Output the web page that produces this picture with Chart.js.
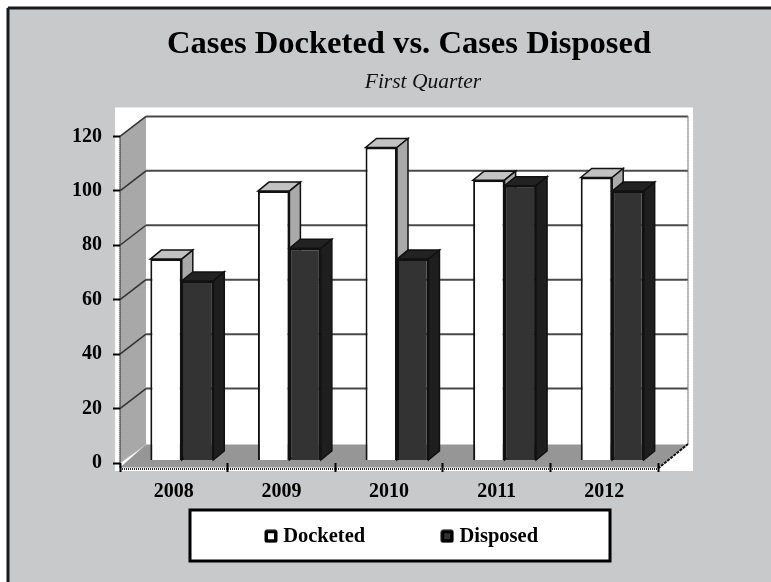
<!DOCTYPE html>
<html>
<head>
<meta charset="utf-8">
<title>Cases Docketed vs. Cases Disposed</title>
<script src="https://cdn.jsdelivr.net/npm/chart.js@4"></script>
<style>
  html, body { margin: 0; padding: 0; background: #fff; }
  #wrap { width: 771px; height: 582px; }
</style>
</head>
<body>
<div id="wrap"><canvas id="grafico"></canvas></div>
<script>
const years = ["2008", "2009", "2010", "2011", "2012"];
const docketed = [74, 99, 115, 103, 104];
const disposed = [66, 78, 74, 101, 99];

const FONT = '"Liberation Serif", serif';
const wall = { dx: 26, dy: -20 };   // depth of the back wall
const barDepth = { dx: 11, dy: -9 };
const barShift = { x: 8, y: -2.5 };
const barFaces = [
  { top: "#c2c2c2", side: "#a9a9a9" },
  { top: "#222222", side: "#1e1e1e" }
];

function poly(ctx, pts, fill, stroke, lw) {
  ctx.beginPath();
  pts.forEach((p, i) => i ? ctx.lineTo(p[0], p[1]) : ctx.moveTo(p[0], p[1]));
  ctx.closePath();
  if (fill) { ctx.fillStyle = fill; ctx.fill(); }
  if (stroke) { ctx.strokeStyle = stroke; ctx.lineWidth = lw || 1; ctx.stroke(); }
}

function line(ctx, x1, y1, x2, y2, color, lw, dash) {
  ctx.save();
  ctx.beginPath();
  ctx.setLineDash(dash || []);
  ctx.moveTo(x1, y1);
  ctx.lineTo(x2, y2);
  ctx.strokeStyle = color;
  ctx.lineWidth = lw;
  ctx.stroke();
  ctx.restore();
}

function marker(inner) {
  const c = document.createElement("canvas");
  c.width = 14; c.height = 14;
  const g = c.getContext("2d");
  g.fillStyle = "#000";
  g.beginPath();
  g.roundRect(0.5, 0.5, 13, 13, 2.5);
  g.fill();
  g.fillStyle = inner;
  g.fillRect(4, 4, 6, 6);
  return c;
}
const markers = [marker("#ffffff"), marker("#333333")];

const LEGEND_GAP = 80;

const escena3d = {
  id: "escena3d",
  afterInit(chart) {
    // the wide item gap must not make the legend tall
    const fit = chart.legend.fit;
    chart.legend.fit = function () { fit.call(this); this.height = 38; };
  },
  afterLayout(chart) {
    // title, subtitle and legend are not centred on the plot in the original
    chart.boxes.filter(b => b.options && b.options.text).forEach(b => {
      const shift = b.options.text === "First Quarter" ? 70.5 : 56.5;
      b.left += shift;
      b.right += shift;
    });
    const lg = chart.legend;
    lg.left += 51;
    lg.right += 51;
    lg.top = 526 - LEGEND_GAP;
    lg.bottom = chart.height;
  },
  beforeDraw(chart) {
    const { ctx, chartArea: a, width, height } = chart;
    const y = chart.scales.y;
    ctx.save();
    ctx.fillStyle = "#c8c9cb";
    ctx.fillRect(7, 7, width, height);
    line(ctx, 8, 8, width, 8, "#1a1a1a", 3);
    line(ctx, 8, 8, 8, height, "#1a1a1a", 3);

    // white panel behind the plot
    ctx.fillStyle = "#fff";
    ctx.fillRect(a.left - 5, a.top - 29, a.width + 40, a.height + 37);

    const bx = a.left + wall.dx, by = y.getPixelForValue(0) + wall.dy;
    const bTop = y.getPixelForValue(120) + wall.dy;
    const front = a.bottom + 4.5;

    // floor and side wall
    poly(ctx, [[bx, by + 1.5], [a.right + wall.dx + 4, by + 1.5], [a.right, front], [a.left, front]], "#969696");
    poly(ctx, [[a.left, a.top], [bx, bTop], [bx, by + 1.5], [a.left, a.bottom]], "#a8a8a8");

    // grid on side wall and back wall
    y.ticks.forEach(t => {
      const py = y.getPixelForValue(t.value);
      if (t.value > 0) {
        line(ctx, a.left, py, bx, py + wall.dy, "#333", 1.5);
        line(ctx, bx, py + wall.dy, a.right + wall.dx + 4, py + wall.dy, "#4a4a4a", 2);
      }
    });
    line(ctx, a.left, a.bottom, bx, by + 1.5, "#bbb", 1);

    // dotted frame
    line(ctx, a.left, a.top, a.left, front + 1, "#333", 2, [1, 1]);
    line(ctx, a.left, front + 1.5, a.right, front + 1.5, "#222", 2, [1, 1]);
    line(ctx, a.right + wall.dx + 4, bTop, a.right + wall.dx + 4, by + 1, "#777", 2, [1, 1]);
    line(ctx, a.right, front + 1, a.right + wall.dx + 4, by + 1, "#111", 2, [3, 1]);

    // legend frame
    ctx.fillStyle = "#fff";
    ctx.strokeStyle = "#000";
    ctx.lineWidth = 3;
    ctx.fillRect(190, 510, 420, 51);
    ctx.strokeRect(190, 510, 420, 51);
    ctx.restore();
  },
  beforeDatasetDraw() {
    return false;   // bars are painted below, docketed first, so the depth overlaps right
  },
  afterDatasetsDraw(chart) {
    const { ctx } = chart;
    ctx.save();
    ctx.translate(barShift.x, barShift.y);
    chart.data.datasets.forEach((ds, i) => {
      const { top, side } = barFaces[i];
      chart.getDatasetMeta(i).data.forEach(bar => {
        const l = bar.x - bar.width / 2, r = bar.x + bar.width / 2;
        const t = bar.y, b = bar.base;
        const dx = barDepth.dx, dy = barDepth.dy;
        poly(ctx, [[l, t], [l + dx, t + dy], [r + dx, t + dy], [r, t]], top, "#111", 1.5);
        poly(ctx, [[r, t], [r + dx, t + dy], [r + dx, b + dy], [r, b]], side, "#111", 1.5);
        bar.draw(ctx);
      });
    });
    ctx.restore();
  }
};

new Chart(document.getElementById("grafico"), {
  type: "bar",
  data: {
    labels: years,
    datasets: [
      { label: "Docketed", data: docketed, backgroundColor: "#ffffff", borderColor: "#111", borderWidth: 2 },
      { label: "Disposed", data: disposed, backgroundColor: "#333333", borderColor: "#111", borderWidth: 2 }
    ]
  },
  plugins: [escena3d],
  options: {
    responsive: true,
    maintainAspectRatio: false,
    animation: false,
    layout: { padding: { left: 47, right: 113, top: 25.3, bottom: 28 } },
    datasets: { bar: { categoryPercentage: 0.585, barPercentage: 1 } },
    plugins: {
      title: {
        display: true,
        text: "Cases Docketed vs. Cases Disposed",
        color: "#000",
        font: { family: FONT, size: 32.6, weight: "bold" },
        padding: { top: 0, bottom: 5.2 }
      },
      subtitle: {
        display: true,
        text: "First Quarter",
        color: "#111",
        font: { family: FONT, size: 21.5, style: "italic", weight: "normal" },
        padding: { top: 0, bottom: 41 }
      },
      legend: {
        position: "bottom",
        labels: {
          color: "#000",
          font: { family: FONT, size: 20.5, weight: "bold" },
          usePointStyle: true,
          pointStyleWidth: 4,
          padding: LEGEND_GAP,
          generateLabels(chart) {
            const items = Chart.defaults.plugins.legend.labels.generateLabels(chart);
            items.forEach((it, i) => { it.pointStyle = markers[i]; });
            return items;
          }
        }
      },
      tooltip: { enabled: false }
    },
    scales: {
      x: {
        afterFit(axis) { axis.height = 53; },
        border: { display: false },
        grid: { drawOnChartArea: false, drawTicks: true, tickLength: 9, tickWidth: 2, tickColor: "#000" },
        ticks: { color: "#000", padding: 8, maxRotation: 0, font: { family: FONT, size: 20, weight: "bold" } }
      },
      y: {
        min: 0,
        max: 120,
        afterFit(axis) { axis.width = 73; },
        border: { display: false },
        grid: { drawOnChartArea: false, drawTicks: true, tickLength: 7, tickWidth: 2, tickColor: "#000" },
        ticks: { stepSize: 20, color: "#000", padding: 11, font: { family: FONT, size: 20, weight: "bold" } }
      }
    }
  }
});
</script>
</body>
</html>
